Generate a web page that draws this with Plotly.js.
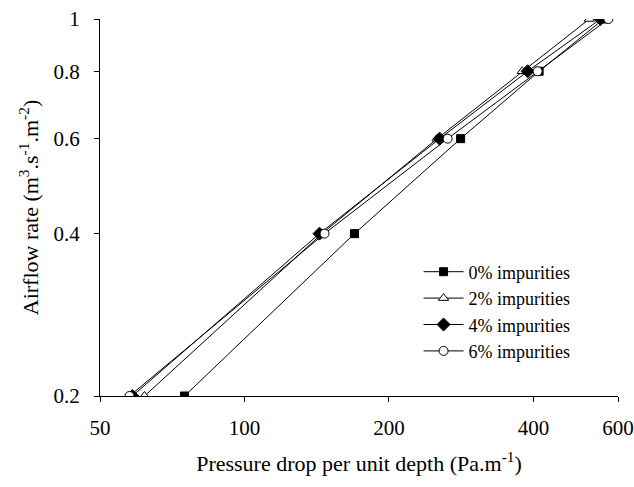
<!DOCTYPE html>
<html>
<head>
<meta charset="utf-8">
<script src="https://cdn.plot.ly/plotly-3.0.1.min.js"></script>
<style>html,body{margin:0;padding:0;background:#fff;}#chart{width:634px;height:487px;}</style>
</head>
<body>
<div id="chart"></div>
<script>
// Airflow rate levels (y) shared by all series
const airflow = [0.2, 0.4, 0.6, 0.8, 1.0];
// Pressure drop per unit depth (x) for each impurity level
const imp0 = [75, 169.5, 282, 411, 560];
const imp2 = [61.9, 145, 252, 379, 523];
const imp4 = [58.4, 143.3, 255, 389, 552];
const imp6 = [57.6, 146.8, 265, 408, 573];
const seriesNames = ['0% impurities', '2% impurities', '4% impurities', '6% impurities'];
const xTicks = [50, 100, 200, 400, 600];
const yTicks = [0.2, 0.4, 0.6, 0.8, 1];
const yTickText = ['0.2', '0.4', '0.6', '0.8', '1'];

const FONT = '"Liberation Serif", serif';
const line = {color: '#000', width: 1};
function mk(x, name, symbol, size, fill) {
  return {
    x: x, y: airflow, name: name, type: 'scatter', mode: 'lines+markers',
    line: line,
    marker: {symbol: symbol, size: size, color: fill, line: {color: '#000', width: 1}}
  };
}
const data = [
  mk(imp0, seriesNames[0], 'square', 8, '#000'),
  mk(imp2, seriesNames[1], 'triangle-up', 9, '#fff'),
  mk(imp4, seriesNames[2], 'diamond', 10, '#000'),
  mk(imp6, seriesNames[3], 'circle', 9, '#fff')
];
const layout = {
  width: 634, height: 487,
  margin: {l: 100, r: 16, t: 19, b: 91},
  paper_bgcolor: '#fff', plot_bgcolor: '#fff',
  font: {family: FONT, color: '#000', size: 20},
  showlegend: true,
  legend: {
    x: 0.615, y: 0.378, xanchor: 'left', yanchor: 'top',
    font: {family: FONT, size: 18, color: '#000'},
    bgcolor: 'rgba(0,0,0,0)', itemwidth: 40, tracegroupgap: 0
  },
  xaxis: {
    type: 'log', range: [Math.log10(50), Math.log10(600)],
    tickvals: xTicks, ticktext: xTicks.map(String),
    showgrid: false, zeroline: false, showline: true, linecolor: '#000', linewidth: 1,
    ticks: 'outside', ticklen: 5, tickcolor: '#000', tickwidth: 1,
    tickfont: {family: FONT, size: 21, color: '#000'},
    ticklabelstandoff: 8,
    title: {text: 'Pressure drop per unit depth (Pa.m<sup>-1</sup>)', font: {family: FONT, size: 22, color: '#000'}, standoff: 16}
  },
  yaxis: {
    type: 'log', range: [Math.log10(0.2), 0],
    tickvals: yTicks, ticktext: yTickText,
    showgrid: false, zeroline: false, showline: true, linecolor: '#000', linewidth: 1,
    ticks: 'outside', ticklen: 5, tickcolor: '#000', tickwidth: 1,
    tickfont: {family: FONT, size: 21, color: '#000'},
    ticklabelstandoff: 10,
    title: {text: 'Airflow rate (m<sup>3</sup>.s<sup>-1</sup>.m<sup>-2</sup>)', font: {family: FONT, size: 22, color: '#000'}, standoff: 8}
  }
};
Plotly.newPlot('chart', data, layout, {displayModeBar: false, staticPlot: true});
</script>
</body>
</html>
